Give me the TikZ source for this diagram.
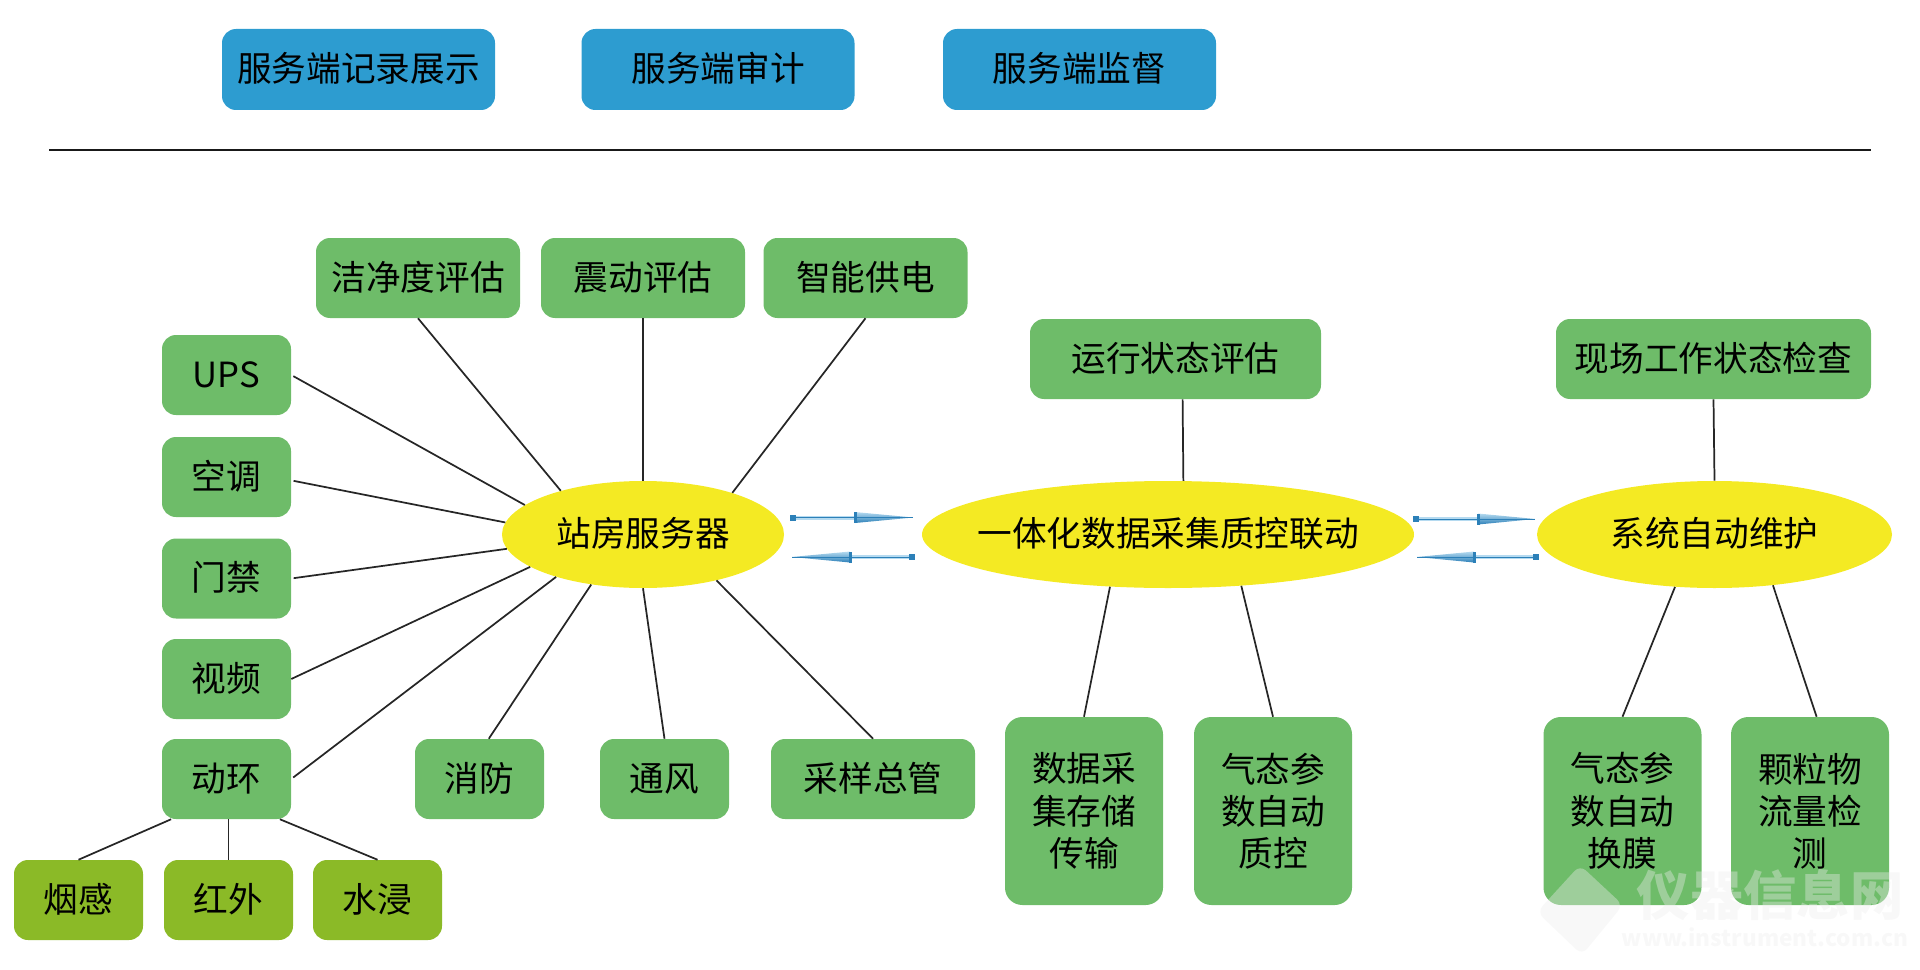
\documentclass[tikz,border=0pt]{standalone}
\usepackage{fontspec}
\setmainfont{Noto Sans CJK SC}
\usetikzlibrary{calc,shapes.geometric}
\definecolor{topblue}{HTML}{2D9CD0}
\definecolor{leafgreen}{HTML}{6EBC69}
\definecolor{subgreen}{HTML}{8BBA27}
\definecolor{hubyellow}{HTML}{F4EA23}
\definecolor{linkdark}{HTML}{262626}
\definecolor{flowdark}{HTML}{2C80B8}
\definecolor{flowlight}{HTML}{B5DAF0}
\newcommand{\hubtext}[1]{\makebox[0pt][c]{#1}}
\tikzset{
  x=0.75pt,y=-0.75pt,
  sz/.style 2 args={minimum width=#1*0.75pt,minimum height=#2*0.75pt},
  txt/.style={font=\fontsize{26}{31.7}\selectfont,text=black,align=center,inner sep=0pt},
  oneline/.style={text height=24pt,text depth=5.5pt},
  roundbox/.style={rectangle,rounded corners=10.5pt,txt},
  topbox/.style={roundbox,oneline,fill=topblue,sz={273}{81}},
  leaf/.style={roundbox,fill=leafgreen},
  smallleaf/.style={leaf,oneline,sz={129}{80}},
  wideleaf/.style={leaf,oneline,sz={204}{80}},
  tallleaf/.style={leaf,rounded corners=13pt,sz={158}{188}},
  subleaf/.style={roundbox,oneline,fill=subgreen,sz={129}{80}},
  hub/.style={ellipse,fill=hubyellow,txt,oneline,inner sep=0pt},
  link/.style={draw=linkdark,line width=1.3pt},
  gaplink/.style={link,shorten <=1.8pt},
  wmark/.style={opacity=0.38,text=white!86!gray,inner sep=0pt}
}
\newcommand{\flowarrow}[3]{% tail, head base, tip
  \draw[line width=3pt,flowlight] (#1) -- (#2);
  \draw[line width=0.7pt,flowdark] (#1) -- (#2);
  \fill[flowdark] ($(#1)+(-3,-3)$) rectangle ($(#1)+(3,3)$);
  \shade[top color=flowlight,bottom color=flowdark]
    ($(#2)+(0,-5.5)$) -- (#3) -- ($(#2)+(0,5.5)$) -- cycle;
  \draw[line width=0.5pt,flowdark] (#2) -- (#3);
  \fill[flowdark] ($(#2)+(-1.5,-5.5)$) rectangle ($(#2)+(1.5,5.5)$);
}
\begin{document}
\begin{tikzpicture}
\useasboundingbox (0,0) rectangle (1920,970);
% top row
\node[topbox] (rec) at (358.5,69.5) {服务端记录展示};
\node[topbox] (aud) at (718,69.5) {服务端审计};
\node[topbox] (sup) at (1079.5,69.5) {服务端监督};
\coordinate (ruleL) at (49,150);
\coordinate (ruleR) at (1871,150);
\draw[line width=2.2pt,draw=black!90] (ruleL) -- (ruleR);
% hubs
\node[hub,sz={282}{107}] (station) at (643,534.5) {\hubtext{站房服务器}};
\node[hub,sz={492}{107}] (integ) at (1168,534.5) {\hubtext{一体化数据采集质控联动}};
\node[hub,sz={355}{107}] (auto) at (1714.5,534.5) {\hubtext{系统自动维护}};
% station leaves
\node[wideleaf] (clean) at (418,278) {洁净度评估};
\node[wideleaf] (vib) at (643,278) {震动评估};
\node[wideleaf] (power) at (865.5,278) {智能供电};
\node[smallleaf] (ups) at (226.5,375) {UPS};
\node[smallleaf] (ac) at (226.5,477) {空调};
\node[smallleaf] (door) at (226.5,578.5) {门禁};
\node[smallleaf] (video) at (226.5,679) {视频};
\node[smallleaf] (env) at (226.5,779) {动环};
\node[smallleaf] (fire) at (479.5,779) {消防};
\node[smallleaf] (vent) at (664.5,779) {通风};
\node[wideleaf] (pipe) at (873,779) {采样总管};
\node[subleaf] (smoke) at (78.5,900) {烟感};
\node[subleaf] (infra) at (228.5,900) {红外};
\node[subleaf] (water) at (377.5,900) {水浸};
% integ leaves
\node[leaf,oneline,sz={291}{80}] (state) at (1175.5,359) {运行状态评估};
\node[tallleaf] (daq) at (1084,811) {数据采\\集存储\\传输};
\node[tallleaf] (qc) at (1273,811) {气态参\\数自动\\质控};
% auto leaves
\node[leaf,oneline,sz={315}{80}] (check) at (1713.5,359) {现场工作状态检查};
\node[tallleaf] (film) at (1622.5,811) {气态参\\数自动\\换膜};
\node[tallleaf] (flow) at (1810,811) {颗粒物\\流量检\\测};
% connectors: station
\draw[gaplink] (ups.east) -- (station.166.2);
\draw[gaplink] (ac.-3.8) -- (station.175.7);
\draw[gaplink] (door.east) -- (station.186.4);
\draw[link] (video.east) -- (station.196.2);
\draw[gaplink] (env.east) -- (station.206.9);
\draw[link] (fire.77.8) -- (station.224.7);
\draw[link] (vent.north) -- (station.270);
\draw[link] (pipe.north) -- (station.328.4);
\draw[link] (clean.south) -- (station.152.1);
\draw[link] (vib.south) -- (station.90);
\draw[link] (power.south) -- (station.25.9);
% connectors: env
\draw[link] (smoke.north) -- (env.216.8);
\draw[link] (infra.north) -- (infra.north |- env.south);
\draw[link] (water.north) -- (env.323.2);
% connectors: integ
\draw[link] (state.280.5) -- (integ.74.6);
\draw[link] (daq.north) -- (integ.222);
\draw[link] (qc.north) -- (integ.325);
% connectors: auto
\draw[link] (check.south) -- (auto.90);
\draw[link] (film.north) -- (auto.233);
\draw[link] (flow.86.3) -- (auto.319);
% flow arrows
\coordinate (a1t) at (793,517.5); \coordinate (a1b) at (855,517.5); \coordinate (a1h) at (913,517.5);
\coordinate (a2t) at (912,557); \coordinate (a2b) at (850,557); \coordinate (a2h) at (792,557);
\coordinate (a3t) at (1416,519); \coordinate (a3b) at (1478,519); \coordinate (a3h) at (1535,519);
\coordinate (a4t) at (1536,557); \coordinate (a4b) at (1474,557); \coordinate (a4h) at (1417,557);
\flowarrow{a1t}{a1b}{a1h}
\flowarrow{a2t}{a2b}{a2h}
\flowarrow{a3t}{a3b}{a3h}
\flowarrow{a4t}{a4b}{a4h}
% watermark
\fill[white!86!gray,opacity=0.38,rounded corners=6pt] (1580,865) -- (1623,905) -- (1582,955) -- (1537,912) -- cycle;
\node[wmark,font=\fontsize{40}{40}\selectfont\bfseries] (wm1) at (1770,895) {仪器信息网};
\node[wmark,font=\fontsize{17}{17}\selectfont\bfseries] (wm2) at (1765,937) {www.instrument.com.cn};
\end{tikzpicture}
\end{document}
